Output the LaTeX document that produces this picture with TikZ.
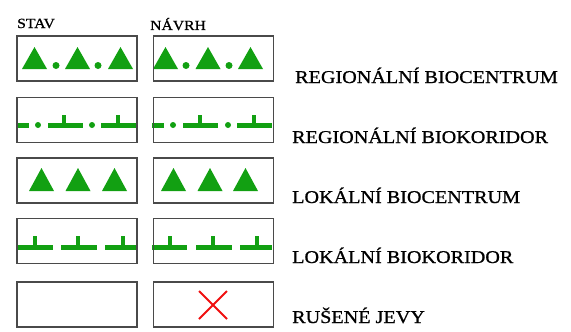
\documentclass[tikz,border=0pt]{standalone}
\usepackage{fontspec}
\setmainfont{Liberation Serif}[FakeStretch=1.12,RawFeature={embolden=0.9}]
\usepackage{tikz}
\usetikzlibrary{positioning}
\definecolor{usesgreen}{HTML}{12A012}
\definecolor{boxgray}{HTML}{4A4A4A}
\definecolor{cross}{HTML}{F01010}

\begin{document}
\begin{tikzpicture}[x=1pt,y=-1pt,
  box/.style={draw=boxgray,line width=1.2pt,minimum width=120pt,minimum height=45pt,inner sep=0pt},
  head/.style={font=\fontsize{14}{16}\selectfont,anchor=base west,inner sep=0pt},
  lab/.style={font=\fontsize{18}{20}\selectfont,anchor=base west,inner sep=0pt},
  bar/.style={usesgreen,line width=5pt},
  tick/.style={usesgreen,line width=4pt}]
  \useasboundingbox (0,0) rectangle (571,332);
  % regionalni biocentrum
  \foreach \x in {34.5,77.5,120.5,165.5,208,250.5}
    \fill[usesgreen] (\x-12.5,69) -- (\x,47) -- (\x+12.5,69) -- cycle;
  \foreach \x in {56,98,186,229}
    \fill[usesgreen] (\x,65.5) circle (3.5);
  % regionalni biokoridor
  \foreach \a/\b in {17/29,48/83,101/137,152/164,183/218,237/272}
    \draw[bar] (\a,125) -- (\b,125);
  \foreach \x in {64,118,200,254}
    \draw[tick] (\x,125) -- (\x,115);
  \foreach \x in {38,92,173,228}
    \fill[usesgreen] (\x,125) circle (3);
  % lokalni biocentrum
  \foreach \x in {41.5,78,114.5,173.5,210,245.5}
    \fill[usesgreen] (\x-12.5,191) -- (\x,168) -- (\x+12.5,191) -- cycle;
  % lokalni biokoridor
  \foreach \a/\b in {17/53,61/97,105/137,152/187,196/232,240/272}
    \draw[bar] (\a,247) -- (\b,247);
  \foreach \x in {35,78,123,170,213,257}
    \draw[tick] (\x,247) -- (\x,236);
  % boxes
  \node[box] (s1) at (77,58.5) {};
  \node[box,right=15pt of s1] (n1) {};
  \node[box] (s2) at (77,120) {};
  \node[box,right=15pt of s2] (n2) {};
  \node[box] (s3) at (77,180.5) {};
  \node[box,right=15pt of s3] (n3) {};
  \node[box] (s4) at (77,241) {};
  \node[box,right=15pt of s4] (n4) {};
  \node[box] (s5) at (77,304.5) {};
  \node[box,right=15pt of s5] (n5) {};
  % rusene jevy
  \draw[cross,line width=1.8pt] (199,291) -- (227,319) (199,319) -- (227,291);
  \node[head] (stav) at (17,28) {STAV};
  \node[head] (navrh) at (150,30) {NÁVRH};
  \node[lab] (l1) at (295,83) {REGIONÁLNÍ BIOCENTRUM};
  \node[lab] (l2) at (292,143) {REGIONÁLNÍ BIOKORIDOR};
  \node[lab] (l3) at (292,203) {LOKÁLNÍ BIOCENTRUM};
  \node[lab] (l4) at (292,263) {LOKÁLNÍ BIOKORIDOR};
  \node[lab] (l5) at (292,323) {RUŠENÉ JEVY};
\end{tikzpicture}
\end{document}
